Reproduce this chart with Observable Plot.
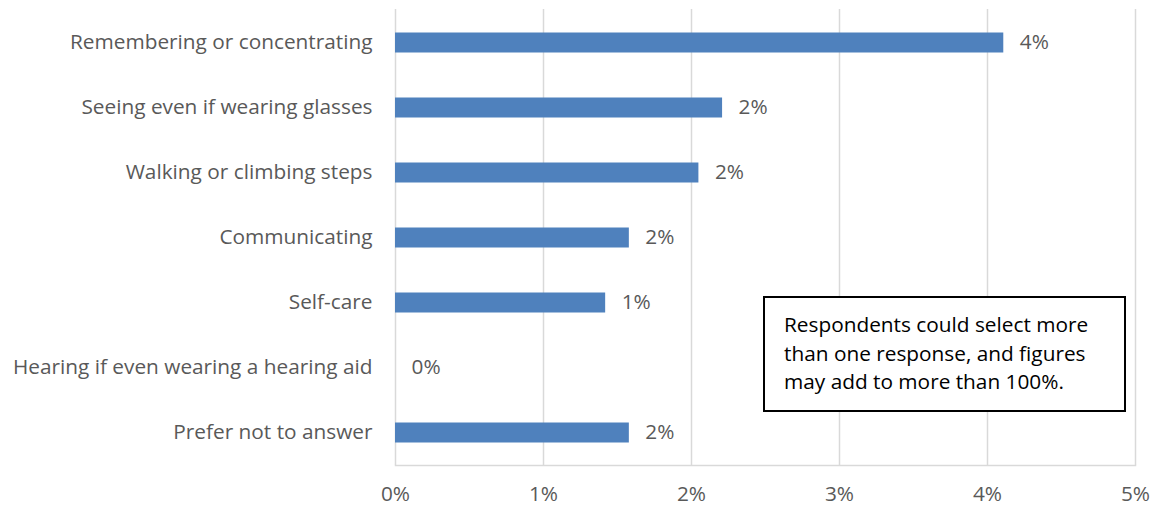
<!DOCTYPE html>
<html>
<head>
<meta charset="utf-8">
<script src="https://cdn.jsdelivr.net/npm/d3@7"></script>
<script src="https://cdn.jsdelivr.net/npm/@observablehq/plot@0.6"></script>
<style>
  html, body { margin: 0; padding: 0; background: #fff; }
  #wrap { position: relative; width: 1157px; height: 508px; }
  #note {
    position: absolute; left: 763px; top: 296px; width: 359px; height: 112px;
    border: 2px solid #000; background: #fff; box-sizing: content-box;
    font-family: "Open Sans", sans-serif; font-size: 20.8px; line-height: 28.5px;
    color: #000; padding: 0; 
  }
  #note div { position: absolute; left: 19px; top: 12px; white-space: nowrap; }
</style>
</head>
<body>
<div id="wrap"></div>
<script>
const categories = [
  "Remembering or concentrating",
  "Seeing even if wearing glasses",
  "Walking or climbing steps",
  "Communicating",
  "Self-care",
  "Hearing if even wearing a hearing aid",
  "Prefer not to answer"
];
const values = [4.11, 2.21, 2.05, 1.58, 1.42, 0, 1.58];
const valueLabels = ["4%", "2%", "2%", "2%", "1%", "0%", "2%"];
const xTicks = [0, 1, 2, 3, 4, 5];
const noteLines = [
  "Respondents could select more",
  "than one response, and figures",
  "may add to more than 100%."
];

const data = categories.map((c, i) => ({category: c, value: values[i], label: valueLabels[i]}));

const FS = 20.8;
const chart = Plot.plot({
  width: 1157,
  height: 508,
  marginLeft: 395,
  marginRight: 22,
  marginTop: 9,
  marginBottom: 43,
  style: {fontFamily: "'Open Sans', sans-serif", fontSize: FS + "px", color: "#595959", background: "#fff"},
  x: {domain: [0, 5], ticks: xTicks},
  y: {domain: categories, padding: 0},
  marks: [
    Plot.gridX(xTicks, {stroke: "#d9d9d9", strokeOpacity: 1, strokeWidth: 1.5}),
    Plot.frame({anchor: "bottom", stroke: "#d9d9d9", strokeWidth: 1.5}),
    Plot.barX(data, {x: "value", y: "category", fill: "#4f81bd", insetTop: 22.5, insetBottom: 22.5}),
    Plot.text(data, {x: "value", y: "category", text: "label", textAnchor: "start", dx: 16, dy: -1, fill: "#595959", fontSize: FS}),
    Plot.axisY({tickSize: 0, tickPadding: 23, dy: -1, label: null, fontSize: FS}),
    Plot.axisX(xTicks, {tickSize: 0, tickPadding: 21, label: null, tickFormat: d => d + "%", fontSize: FS})
  ]
});
const wrap = document.getElementById("wrap");
wrap.appendChild(chart);
const note = document.createElement("div");
note.id = "note";
const inner = document.createElement("div");
inner.innerHTML = noteLines.join("<br>");
note.appendChild(inner);
wrap.appendChild(note);
</script>
</body>
</html>
